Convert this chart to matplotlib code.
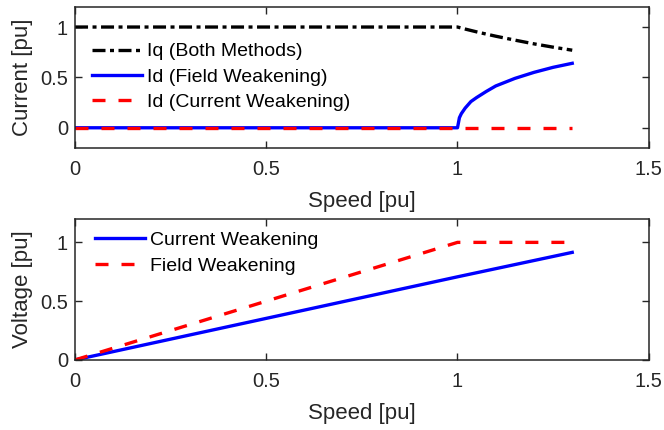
import matplotlib
matplotlib.use("Agg")
import matplotlib.pyplot as plt

plt.rcParams['font.family'] = ['Liberation Sans', 'DejaVu Sans']

# speed points [pu]
speed = [0.0, 0.5, 1.0, 1.005, 1.01, 1.02, 1.035, 1.05, 1.075, 1.1, 1.15, 1.2, 1.25, 1.3]
# currents
iq_both = [1.0, 1.0, 1.0, 0.995, 0.99, 0.98, 0.966, 0.952, 0.93, 0.909, 0.87, 0.833, 0.80, 0.77]
id_field = [0.0, 0.0, 0.0, 0.10, 0.14, 0.195, 0.26, 0.30, 0.36, 0.415, 0.49, 0.55, 0.60, 0.64]
id_current = [0.0, 0.0, 0.0, 0.0, 0.0, 0.0, 0.0, 0.0, 0.0, 0.0, 0.0, 0.0, 0.0, 0.0]

# voltages
v_speed = [0.0, 1.0, 1.3]
v_current = [0.0, 0.707, 0.915]
v_field = [0.0, 1.0, 1.0]

dark = '#262626'
lw = 2.4
dash = (0, (3.9, 3.9))
dashdot = (0, (3.9, 1.35, 1.2, 1.35))

fig = plt.figure(figsize=(6.64, 4.30), dpi=100)
ax1 = fig.add_axes([0.113, 0.656, 0.864, 0.328])
ax2 = fig.add_axes([0.113, 0.163, 0.864, 0.328])

ax1.plot(speed, iq_both, color='black', lw=lw, ls=dashdot, label='Iq (Both Methods)')
ax1.plot(speed, id_field, color='blue', lw=lw, label='Id (Field Weakening)')
ax1.plot(speed, id_current, color='red', lw=lw, ls=dash, label='Id (Current Weakening)')
ax1.set_ylim(-0.2, 1.2)
ax1.set_ylabel('Current [pu]')

ax2.plot(v_speed, v_current, color='blue', lw=lw, label='Current Weakening')
ax2.plot(v_speed, v_field, color='red', lw=lw, ls=dash, label='Field Weakening')
ax2.set_ylim(0, 1.2)
ax2.set_ylabel('Voltage [pu]')

for ax, anchor in ((ax1, (0.03, 0.745)), (ax2, (0.035, 0.91))):
    ax.set_xlim(0, 1.5)
    ax.set_xticks([0, 0.5, 1, 1.5])
    ax.set_xticklabels(['0', '0.5', '1', '1.5'])
    ax.set_yticks([0, 0.5, 1])
    ax.set_yticklabels(['0', '0.5', '1'])
    ax.set_xlabel('Speed [pu]', fontsize=16, color=dark, labelpad=8)
    ax.yaxis.label.set_fontsize(16)
    ax.yaxis.label.set_color(dark)
    ax.yaxis.labelpad = 5
    ax.tick_params(direction='in', top=True, right=True, labelsize=14.5,
                   colors=dark, length=5, width=1)
    ax.tick_params(axis='x', pad=9)
    ax.tick_params(axis='y', pad=5)
    for s in ax.spines.values():
        s.set_color(dark)
        s.set_linewidth(1.1)
    ax.legend(loc='upper left', bbox_to_anchor=anchor, frameon=False, fontsize=14,
              handlelength=2.57, handletextpad=0.26, labelspacing=0.4,
              borderpad=0, borderaxespad=0)

fig.savefig('out.png', dpi=100)
